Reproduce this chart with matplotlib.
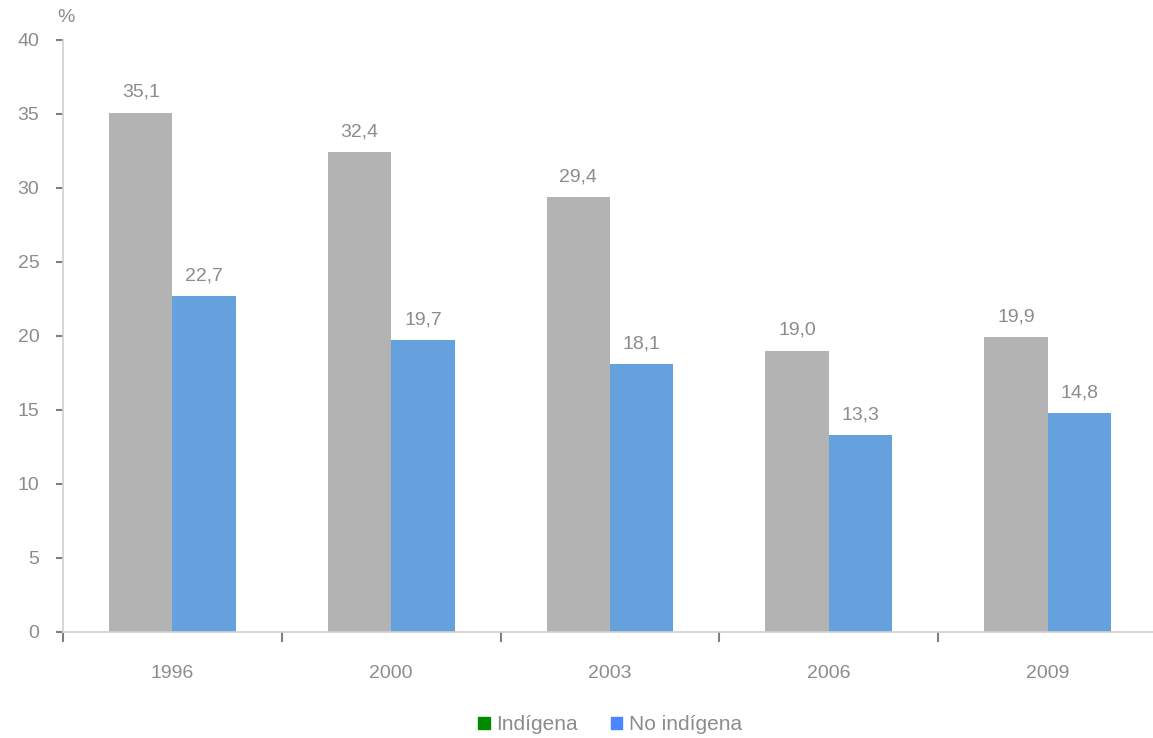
import matplotlib.pyplot as plt
from matplotlib.patches import Patch
import numpy as np

plt.rcParams['font.family'] = ['Liberation Sans', 'DejaVu Sans']

years = ["1996", "2000", "2003", "2006", "2009"]
indigena = [35.1, 32.4, 29.4, 19.0, 19.9]
no_indigena = [22.7, 19.7, 18.1, 13.3, 14.8]

txt = '#8c8c8c'
line = '#d0d0d0'

fig = plt.figure(figsize=(11.53, 7.38), dpi=100)
ax = fig.add_axes([63 / 1153, 106 / 738, 1094 / 1153, 592 / 738])

x = np.arange(len(years))
w = 0.29
b1 = ax.bar(x - w / 2, indigena, w, color='#b3b3b3')
b2 = ax.bar(x + w / 2, no_indigena, w, color='#65a2dd')

for bars, vals in [(b1, indigena), (b2, no_indigena)]:
    for r, v in zip(bars, vals):
        ax.annotate(f"{v:.1f}".replace('.', ','),
                    (r.get_x() + r.get_width() / 2, v),
                    xytext=(0, 8.5), textcoords='offset points',
                    ha='center', va='bottom', fontsize=14, color=txt)

ax.set_xlim(-0.5, 4.5)
ax.set_ylim(0, 40)
ax.set_yticks(range(0, 41, 5))
ax.tick_params(axis='y', colors=txt, labelsize=14, length=5, width=1.5,
               direction='out', pad=12, color='#808080')
ax.set_xticks(np.arange(-0.5, 4.6, 1))
ax.set_xticks(x, minor=True)
ax.set_xticklabels([])
ax.set_xticklabels(years, minor=True)
ax.tick_params(axis='x', which='major', length=7, width=1.5, color='#808080')
ax.tick_params(axis='x', which='minor', length=0, pad=24, colors=txt, labelsize=14)

for s in ['top', 'right']:
    ax.spines[s].set_visible(False)
for s in ['left', 'bottom']:
    ax.spines[s].set_color(line)
    ax.spines[s].set_linewidth(1.2)

fig.text(66 / 1153, 1 - 18 / 738, '%', fontsize=14, color=txt, ha='center', va='center')

handles = [Patch(color='#008a00', label='Indígena'),
           Patch(color='#4a86ff', label='No indígena')]
fig.legend(handles=handles, loc='center', bbox_to_anchor=(610 / 1153, 1 - 725 / 738),
           ncol=2, frameon=False, fontsize=15, labelcolor=txt,
           handlelength=0.55, handleheight=0.55, handletextpad=0.3, columnspacing=1.6)

plt.savefig("out.png", dpi=100)
